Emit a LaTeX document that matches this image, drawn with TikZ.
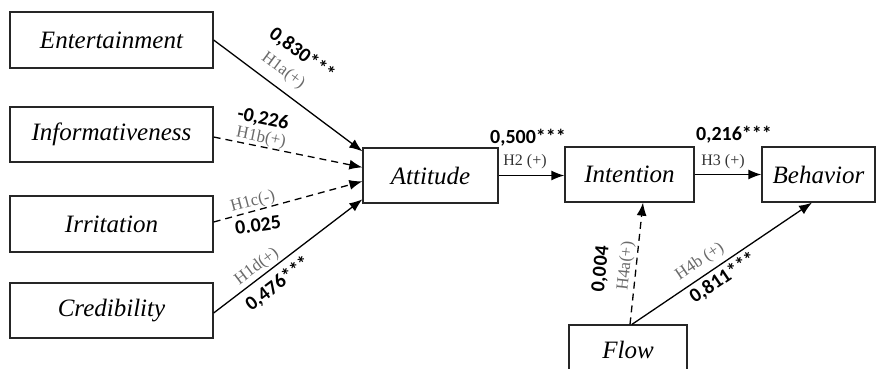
\documentclass[tikz,border=0pt]{standalone}
\usepackage{fontspec}
\setmainfont{Liberation Serif}
\newfontfamily\numfont{Carlito}
\usetikzlibrary{arrows.meta}
\definecolor{hgray}{HTML}{6A6A6A}
\begin{document}
\begin{tikzpicture}[x=1pt,y=-1pt,
  box/.style={draw=black!85, line width=1.3pt, minimum width=203pt, minimum height=56pt, inner sep=0pt,
     font=\fontsize{25}{28}\selectfont\itshape},
  conn/.style={line width=1.3pt, -{Latex[length=13pt,width=10pt]}},
  dsh/.style={conn, dash pattern=on 7pt off 5pt},
  num/.style={inner sep=0pt, font=\numfont\bfseries\fontsize{20}{22}\selectfont},
  hyp/.style={inner sep=0pt, text=hgray, font=\fontsize{17}{19}\selectfont},
  hyd/.style={inner sep=0pt, text=black!80, font=\fontsize{16}{18}\selectfont}]
\useasboundingbox (0,0) rectangle (881,369);
\clip (0,0) rectangle (881,369);

% boxes
\node[box] (ent) at (111.5,40) {Entertainment};
\node[box, minimum height=55pt] (inf) at (111.5,134.5) {Informativeness};
\node[box] (irr) at (111.5,224) {Irritation};
\node[box, minimum height=55pt] (cred) at (111.5,310.5) {Credibility};
\node[box, minimum width=135pt, minimum height=55pt] (att) at (430.5,175.5) {Attitude};
\node[box, minimum width=129pt, minimum height=55pt] (int) at (629.5,174.5) {Intention};
\node[box, minimum width=113pt, minimum height=55pt] (beh) at (818.5,174.5) {Behavior};
\node[box, minimum width=118pt, minimum height=50pt] (flow) at (628,350) {Flow};

% connectors
\draw[conn] (ent.east) -- ([yshift=-4pt]att.north west);
\draw[dsh] ([yshift=-2.5pt]inf.east) -- ([yshift=-20pt]att.north west);
\draw[dsh] ([yshift=2pt]irr.east) -- ([yshift=-34pt]att.north west);
\draw[conn] ([yshift=-2.5pt]cred.east) -- ([yshift=-52pt]att.north west);
\draw[conn] (att.east) -- (att.east -| int.west);
\draw[conn] (int.east) -- (int.east -| beh.west);
\draw[dsh] ([xshift=2pt]flow.north) -- ([xshift=13.5pt]int.south);
\draw[conn] ([xshift=4pt]flow.north) -- ([xshift=-6.5pt]beh.south);

% labels
\node[num, rotate=-36.7] (l1) at (302,54) {0,830***};
\node[hyp, rotate=-36.7] (h1) at (283,71) {H1a(+)};
\node[num, rotate=-11.7] (l2) at (263,119) {-0,226};
\node[hyp, rotate=-11.7] (h2) at (261,138) {H1b(+)};
\node[hyp, rotate=15] (h3) at (253,202) {H1c(-)};
\node[num, rotate=8] (l3) at (258,225) {0.025};
\node[hyp, rotate=37] (h4) at (257,267) {H1d(+)};
\node[num, rotate=37] (l4) at (278,284) {0,476***};
\node[num] (l5) at (528,138) {0,500***};
\node[hyd] (h5) at (525,162) {H2 (+)};
\node[num] (l6) at (734,135) {0,216***};
\node[hyd] (h6) at (723,162) {H3 (+)};
\node[num, rotate=84] (l7) at (601,269) {0,004};
\node[hyp, rotate=84] (h7) at (626,266) {H4a(+)};
\node[hyp, rotate=34] (h8) at (700,262) {H4b (+)};
\node[num, rotate=34] (l8) at (723,278) {0,811***};
\end{tikzpicture}
\end{document}
